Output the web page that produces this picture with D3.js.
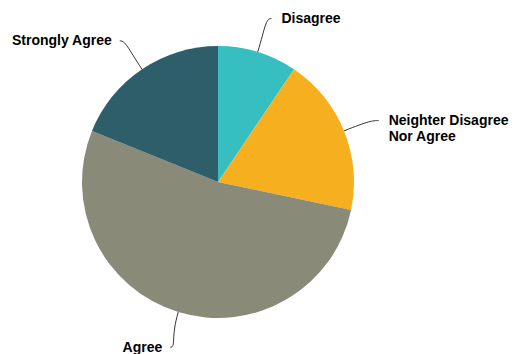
<!DOCTYPE html>
<html>
<head>
<meta charset="utf-8">
<script src="https://cdn.jsdelivr.net/npm/d3@7"></script>
<style>
  body { margin: 0; background: #fff; }
  svg text { font-family: "Liberation Sans", Arial, sans-serif; font-weight: bold; font-size: 14px; fill: #000; }
</style>
</head>
<body>
<svg width="515" height="354"></svg>
<script>
  const categories = ["Disagree", "Neighter Disagree Nor Agree", "Agree", "Strongly Agree"];
  const labelLines = [["Disagree"], ["Neighter Disagree", "Nor Agree"], ["Agree"], ["Strongly Agree"]];
  const values = [5, 10, 28, 10];
  const colors = ["#36BEC0", "#F5AF1F", "#898A78", "#2F5E6B"];

  const svg = d3.select("svg"),
        cx = 218, cy = 182, r = 136;

  const data = categories.map((c, i) => ({category: c, value: values[i], lines: labelLines[i], color: colors[i]}));

  const pie = d3.pie().value(d => d.value).sort(null);
  const arc = d3.arc().innerRadius(0).outerRadius(r);
  const arcs = pie(data);

  const g = svg.append("g").attr("transform", `translate(${cx},${cy})`);

  g.selectAll("path.slice")
    .data(arcs)
    .enter().append("path")
    .attr("class", "slice")
    .attr("d", arc)
    .attr("fill", d => d.data.color);

  const pt = (a, rad) => [Math.sin(a) * rad, -Math.cos(a) * rad];

  // curved connectors + labels
  arcs.forEach(d => {
    const a = (d.startAngle + d.endAngle) / 2;
    const right = Math.sin(a) >= 0;
    const s = pt(a, r);
    const c1 = pt(a, r + 26);
    const e = pt(a + (right ? 0.02 : -0.015), 172);
    const c2 = [e[0] + (right ? -6 : 6), e[1]];

    g.append("path")
      .attr("d", `M${s[0]},${s[1]} C${c1[0]},${c1[1]} ${c2[0]},${c2[1]} ${e[0]},${e[1]}`)
      .attr("fill", "none")
      .attr("stroke", "#333")
      .attr("stroke-width", 1);

    const tx = e[0] + (right ? 10 : -8);
    const t = g.append("text")
      .attr("x", tx)
      .attr("y", e[1] + 4.5)
      .attr("text-anchor", right ? "start" : "end");
    d.data.lines.forEach((line, i) => {
      t.append("tspan")
        .attr("x", tx)
        .attr("dy", i === 0 ? 0 : 16)
        .text(line);
    });
  });
</script>
</body>
</html>
